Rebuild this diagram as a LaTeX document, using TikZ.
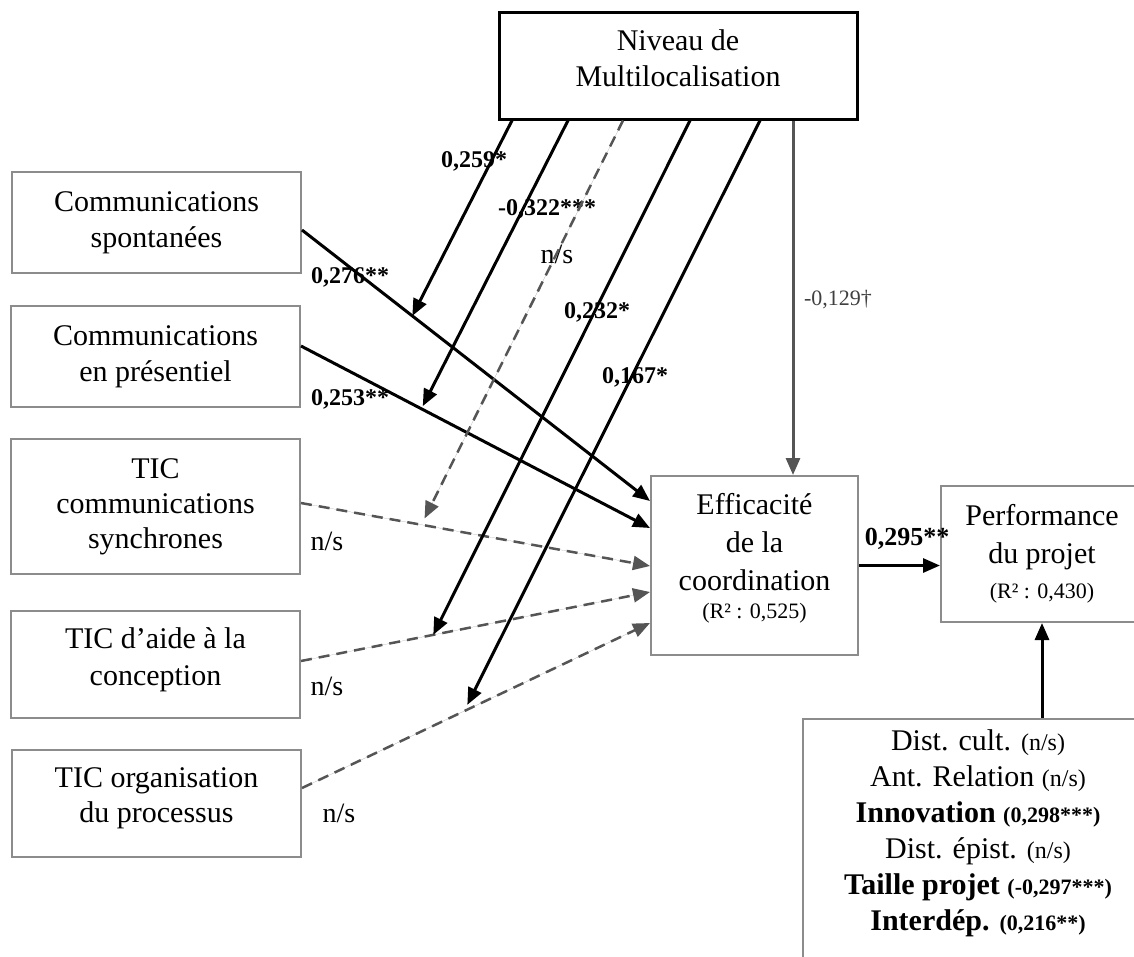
\documentclass[tikz,border=0pt]{standalone}
\usepackage{fontspec}
\setmainfont{Liberation Serif}
\usetikzlibrary{arrows.meta,calc}
\definecolor{boxgray}{HTML}{8C8C8C}
\definecolor{dgray}{HTML}{555555}
\definecolor{lgray}{HTML}{404040}
\newcommand\fsz[2]{\fontsize{#1}{#2}\selectfont}
\begin{document}
\begin{tikzpicture}[x=1pt,y=-1pt,
  box/.style={draw=boxgray, line width=2pt, inner sep=0pt, align=center, font=\fsz{30}{36}},
  lab/.style={font=\bfseries\fsz{24}{28}, inner sep=0pt, anchor=base},
  nslab/.style={font=\fsz{28}{32}, inner sep=0pt, anchor=base},
  tip/.style={-{Triangle[length=17pt,width=14pt]}},
  arr/.style={tip, draw=black, line width=3pt},
  dsh/.style={tip, draw=dgray, fill=dgray, line width=2.5pt, dash pattern=on 11pt off 7pt},
  garr/.style={tip, draw=dgray, line width=3pt}
]
\useasboundingbox (0,0) rectangle (1134,956);
\clip (0,0) rectangle (1134,956);

% boxes
\node[box, draw=black, line width=3pt, minimum width=358pt, minimum height=107pt, text depth=14pt] (niv) at (678,65.5) {Niveau de\\Multilocalisation};
\node[box, minimum width=289pt, minimum height=101pt] (sp) at (156.5,222.5) {Communications\\spontanées};
\node[box, minimum width=289pt, minimum height=101pt] (pr) at (155.5,356.5) {Communications\\en présentiel};
\node[box, minimum width=289pt, minimum height=135pt, font=\fsz{30}{35}] (sy) at (155.5,506.5) {TIC\\communications\\synchrones};
\node[box, minimum width=289pt, minimum height=107pt, text depth=16pt, font=\fsz{30}{37}] (ai) at (155.5,664.5) {TIC d’aide à la\\conception};
\node[box, minimum width=289pt, minimum height=107pt, text depth=17pt, font=\fsz{30}{35}] (og) at (156.5,803.5) {TIC organisation\\du processus};
\node[box, minimum width=207pt, minimum height=179pt, text depth=20pt, font=\fsz{30}{38}] (eff) at (754.5,565.5) {Efficacité\\de la\\coordination\\[-10pt]{\fsz{22}{26}(R² : 0,525)}};
\node[box, minimum width=202pt, minimum height=136pt, font=\fsz{30}{38}] (perf) at (1042,554) {Performance\\du projet\\[-3pt]{\fsz{22}{26}(R² : 0,430)}};
\node[box, anchor=north, minimum width=350pt, inner ysep=11pt, text depth=30pt] (ctrl) at (978,718) {%
Dist. cult. {\fsz{24}{36}(n/s)}\\
Ant. Relation {\fsz{24}{36}(n/s)}\\
\textbf{Innovation {\fsz{22}{36}(0,298***)}}\\
Dist. épist. {\fsz{24}{36}(n/s)}\\
\textbf{Taille projet {\fsz{22}{36}(-0,297***)}}\\
\textbf{Interdép. {\fsz{22}{36}(0,216**)}}};

% labels
\node[lab] (l259) at (474,167) {0,259*};
\node[lab] (l322) at (547,215) {-0,322***};
\node[nslab] (lns) at (557,263) {n/s};
\node[lab] (l232) at (597,318) {0,232*};
\node[lab] (l167) at (635,383) {0,167*};
\node[font=\fsz{22}{26}, text=lgray, inner sep=0pt, anchor=base] (l129) at (838,305) {-0,129†};
\node[lab] (l276) at (350,283) {0,276**};
\node[lab] (l253) at (350,405) {0,253**};
\node[nslab] (ns1) at (327,550) {n/s};
\node[nslab] (ns2) at (327,695) {n/s};
\node[nslab] (ns3) at (339,822) {n/s};
\node[lab, font=\bfseries\fsz{26}{30}] (l295) at (907,545) {0,295**};

% connection points
\coordinate (s1) at ($(sp.east)+(0,7.5)$);
\coordinate (s2) at ($(pr.east)+(0,-10.5)$);
\coordinate (s3) at ($(sy.east)+(0,-3.5)$);
\coordinate (s4) at ($(ai.east)+(0,-3.5)$);
\coordinate (s5) at ($(og.east)+(0,-15.5)$);
\coordinate (e1) at ($(eff.west)+(0,-64.5)$);
\coordinate (e2) at ($(eff.west)+(0,-37.5)$);
\coordinate (e3) at ($(eff.west)+(0,0.5)$);
\coordinate (e4) at ($(eff.west)+(0,26.5)$);
\coordinate (e5) at ($(eff.west)+(0,57.5)$);
\coordinate (n1) at ($(niv.south)+(-166,0)$);
\coordinate (n2) at ($(niv.south)+(-110,0)$);
\coordinate (n3) at ($(niv.south)+(-55,0)$);
\coordinate (n4) at ($(niv.south)+(12,0)$);
\coordinate (n5) at ($(niv.south)+(82,0)$);
\coordinate (n6) at ($(niv.south)+(115,0)$);
\coordinate (m1) at ($(s1)!0.317!(e1)$);
\coordinate (m2) at ($(s2)!0.345!(e2)$);
\coordinate (m3) at ($(s3)!0.345!(e3)$);
\coordinate (m4) at ($(s4)!0.379!(e4)$);
\coordinate (m5) at ($(s5)!0.466!(e5)$);

% predictor arrows
\draw[arr] (s1) -- (e1);
\draw[arr] (s2) -- (e2);
\draw[dsh] (s3) -- (e3);
\draw[dsh] (s4) -- (e4);
\draw[dsh] (s5) -- (e5);

% moderator arrows
\draw[arr] (n1) -- (m1);
\draw[arr, shorten >=3pt] (n2) -- (m2);
\draw[dsh, shorten >=7pt] (n3) -- (m3);
\draw[arr] (n4) -- (m4);
\draw[arr, shorten >=7pt] (n5) -- (m5);
\draw[garr] (n6) -- (n6 |- eff.north);

% outcome arrows
\draw[arr] (eff.east) -- (eff.east -| perf.west);
\draw[arr] (perf.south |- ctrl.north) -- (perf.south);
\end{tikzpicture}
\end{document}
